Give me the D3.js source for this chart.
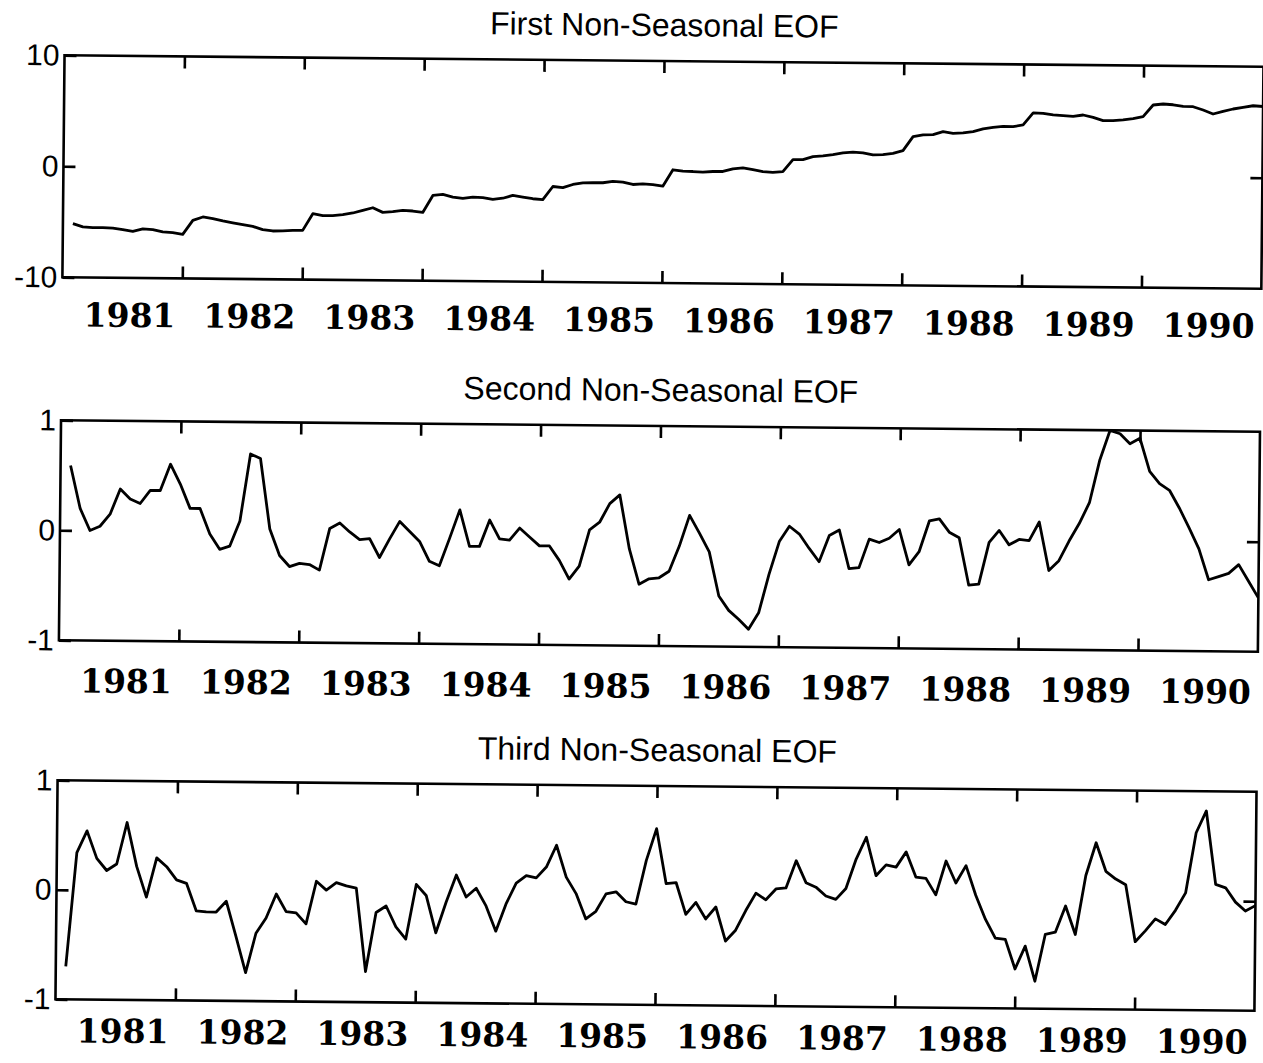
<!DOCTYPE html>
<html>
<head>
<meta charset="utf-8">
<script src="https://cdn.jsdelivr.net/npm/d3@7"></script>
<style>
  html, body { margin: 0; padding: 0; background: #fff; }
  svg { display: block; }
</style>
</head>
<body>
<svg id="chart" width="1263" height="1063"></svg>
<script>
// Monthly index, January 1981 (1) through December 1990 (120)
const months = d3.range(1, 121);
const years = [1981, 1982, 1983, 1984, 1985, 1986, 1987, 1988, 1989, 1990];
const yearBoundaryTicks = [12, 24, 36, 48, 60, 72, 84, 96, 108];

const titles = [
  "First Non-Seasonal EOF",
  "Second Non-Seasonal EOF",
  "Third Non-Seasonal EOF"
];

const firstTicks = [-10, 0, 10];
const eofTicks = [-1, 0, 1];

// First non-seasonal EOF amplitude
const firstEOF = [
  -5.16, -5.45, -5.50, -5.49, -5.54, -5.65, -5.80, -5.58, -5.63, -5.83, -5.88, -6.03,
  -4.76, -4.45, -4.59, -4.79, -4.96, -5.11, -5.25, -5.54, -5.65, -5.64, -5.57, -5.57,
  -4.06, -4.23, -4.22, -4.12, -3.96, -3.72, -3.47, -3.88, -3.81, -3.68, -3.73, -3.85,
  -2.31, -2.21, -2.44, -2.55, -2.42, -2.47, -2.61, -2.50, -2.24, -2.39, -2.52, -2.60,
  -1.40, -1.50, -1.20, -1.04, -1.03, -1.02, -0.89, -0.95, -1.15, -1.08, -1.14, -1.28,
   0.21,  0.09,  0.07,  0.02,  0.09,  0.10,  0.35,  0.45,  0.30,  0.13,  0.07,  0.14,
   1.23,  1.24,  1.52,  1.59,  1.72,  1.88,  1.95,  1.90,  1.73,  1.76,  1.88,  2.14,
   3.41,  3.57,  3.60,  3.88,  3.74,  3.78,  3.91,  4.16,  4.31,  4.40,  4.39,  4.55,
   5.64,  5.61,  5.48,  5.42,  5.37,  5.50,  5.29,  5.01,  5.02,  5.09,  5.21,  5.40,
   6.46,  6.56,  6.50,  6.36,  6.34,  6.05,  5.70,  5.95,  6.17,  6.32,  6.48,  6.42
];

// Second non-seasonal EOF amplitude
const secondEOF = [
   0.59,  0.20,  0.00,  0.04,  0.15,  0.38,  0.29,  0.25,  0.37,  0.37,  0.61,  0.43,
   0.21,  0.21, -0.02, -0.16, -0.13,  0.10,  0.71,  0.67,  0.03, -0.21, -0.31, -0.28,
  -0.29, -0.34,  0.04,  0.09,  0.01, -0.06, -0.05, -0.22, -0.05,  0.11,  0.02, -0.07,
  -0.25, -0.29, -0.04,  0.22, -0.11, -0.11,  0.13, -0.04, -0.05,  0.06, -0.02, -0.10,
  -0.10, -0.23, -0.40, -0.28,  0.05,  0.12,  0.29,  0.37, -0.12, -0.44, -0.39, -0.38,
  -0.32, -0.09,  0.19,  0.03, -0.14, -0.54, -0.67, -0.75, -0.84, -0.69, -0.34, -0.04,
   0.10,  0.03, -0.10, -0.22,  0.02,  0.07, -0.28, -0.27, -0.01, -0.04,  0.00,  0.08,
  -0.24, -0.12,  0.16,  0.18,  0.06,  0.01, -0.42, -0.41, -0.03,  0.08, -0.05,  0.00,
  -0.01,  0.16, -0.28, -0.19, -0.01,  0.15,  0.34,  0.73,  1.00,  0.97,  0.88,  0.93,
   0.63,  0.52,  0.46,  0.30,  0.12, -0.07, -0.35, -0.32, -0.29, -0.21, -0.36, -0.51
];

// Third non-seasonal EOF amplitude
const thirdEOF = [
  -0.70,  0.34,  0.54,  0.29,  0.18,  0.24,  0.62,  0.22, -0.06,  0.30,  0.22,  0.10,
   0.07, -0.18, -0.19, -0.19, -0.09, -0.41, -0.74, -0.38, -0.24, -0.02, -0.18, -0.19,
  -0.29,  0.10,  0.02,  0.09,  0.06,  0.04, -0.72, -0.18, -0.12, -0.31, -0.42,  0.08,
  -0.02, -0.36, -0.08,  0.17, -0.03,  0.05, -0.11, -0.34, -0.09,  0.10,  0.17,  0.15,
   0.25,  0.45,  0.16,  0.01, -0.22, -0.15,  0.01,  0.03, -0.06, -0.08,  0.32,  0.61,
   0.11,  0.12, -0.17, -0.06, -0.21, -0.10, -0.41, -0.31, -0.13,  0.03, -0.03,  0.07,
   0.08,  0.33,  0.13,  0.09,  0.01, -0.02,  0.08,  0.35,  0.55,  0.20,  0.30,  0.28,
   0.42,  0.19,  0.18,  0.03,  0.34,  0.14,  0.30,  0.03, -0.19, -0.36, -0.37, -0.64,
  -0.43, -0.75, -0.32, -0.30, -0.06, -0.32,  0.22,  0.52,  0.26,  0.19,  0.14, -0.38,
  -0.28, -0.17, -0.22, -0.09,  0.07,  0.62,  0.82,  0.15,  0.12, -0.01, -0.09, -0.04
];

// Panel geometry (drawing layout)
const plotLeft = 60, plotRight = 1259;
const panels = [
  { title: titles[0], values: firstEOF,  ticks: firstTicks, top: 61,  height: 222, yearGap: 49 },
  { title: titles[1], values: secondEOF, ticks: eofTicks,   top: 426, height: 220, yearGap: 52 },
  { title: titles[2], values: thirdEOF,  ticks: eofTicks,   top: 786, height: 219, yearGap: 43 }
];

const svg = d3.select("#chart");
svg.append("rect").attr("width", 1263).attr("height", 1063).attr("fill", "#fff");

// whole page sits at a slight clockwise tilt
const root = svg.append("g").attr("transform", "rotate(0.55, 660, 530)");

const x = d3.scaleLinear().domain([0, 120]).range([plotLeft, plotRight]);
const yearMid = years.map((yr, i) => i * 12 + 6);

const sans = "'Liberation Sans', Arial, Helvetica, sans-serif";
const serif = "'DejaVu Serif', 'Liberation Serif', serif";

panels.forEach((p, k) => {
  const bottom = p.top + p.height;
  const y = d3.scaleLinear()
    .domain([p.ticks[0], p.ticks[p.ticks.length - 1]])
    .range([bottom, p.top]);

  const g = root.append("g").attr("class", "panel");

  // title
  g.append("text")
    .attr("x", (plotLeft + plotRight) / 2)
    .attr("y", p.top - 25)
    .attr("text-anchor", "middle")
    .attr("font-family", sans)
    .attr("font-size", 32)
    .attr("fill", "#000")
    .text(p.title);

  // clip for the series
  const clipId = "clip" + k;
  g.append("clipPath").attr("id", clipId)
    .append("rect")
    .attr("x", plotLeft).attr("y", p.top - 1)
    .attr("width", plotRight - plotLeft).attr("height", p.height + 2);

  // series line
  const line = d3.line()
    .x((d, i) => x(months[i]))
    .y(d => y(d));

  g.append("path")
    .datum(p.values)
    .attr("clip-path", `url(#${clipId})`)
    .attr("fill", "none")
    .attr("stroke", "#000")
    .attr("stroke-width", 2.8)
    .attr("stroke-linejoin", "round")
    .attr("d", line);

  // inward ticks on top and bottom edges at year boundaries
  const topAxis = g.append("g")
    .attr("transform", `translate(0,${p.top})`)
    .call(d3.axisBottom(x).tickValues(yearBoundaryTicks).tickSize(12).tickFormat(""));
  const botAxis = g.append("g")
    .attr("transform", `translate(0,${bottom})`)
    .call(d3.axisTop(x).tickValues(yearBoundaryTicks).tickSize(12).tickFormat(""));

  // left axis with value labels, inward tick
  const leftAxis = g.append("g")
    .attr("transform", `translate(${plotLeft},0)`)
    .call(d3.axisLeft(y).tickValues(p.ticks).tickSize(-12).tickPadding(5)
      .tickFormat(d3.format("d")));
  leftAxis.selectAll("text")
    .attr("font-family", sans)
    .attr("font-size", 30)
    .attr("fill", "#000")
    .text(d => d < 0 ? "-" + Math.abs(d) : String(d));

  // right axis, inward zero tick only
  const rightAxis = g.append("g")
    .attr("transform", `translate(${plotRight},0)`)
    .call(d3.axisRight(y).tickValues([0]).tickSize(-12).tickFormat(""));

  [topAxis, botAxis, leftAxis, rightAxis].forEach(a => {
    a.select(".domain").remove();
    a.selectAll(".tick line").attr("stroke", "#000").attr("stroke-width", 2.6);
  });

  // frame
  g.append("rect")
    .attr("x", plotLeft).attr("y", p.top)
    .attr("width", plotRight - plotLeft).attr("height", p.height)
    .attr("fill", "none")
    .attr("stroke", "#000")
    .attr("stroke-width", 2.6);

  // year labels centred on each year
  const yearAxis = g.append("g")
    .attr("transform", `translate(7,${bottom})`)
    .call(d3.axisBottom(x).tickValues(yearMid).tickSize(0)
      .tickFormat((d, i) => String(years[i])));
  yearAxis.select(".domain").remove();
  yearAxis.selectAll("text")
    .attr("dy", null)
    .attr("y", p.yearGap)
    .attr("font-family", serif)
    .attr("font-weight", "bold")
    .attr("font-size", 33)
    .attr("fill", "#000");
});
</script>
</body>
</html>
